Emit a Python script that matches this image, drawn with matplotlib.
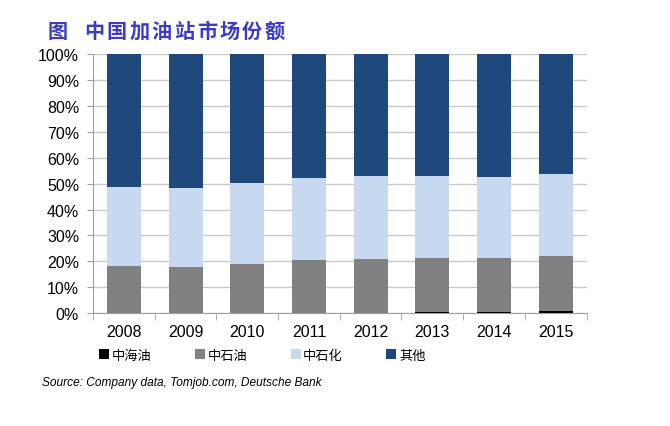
import numpy as np
import matplotlib
matplotlib.use('Agg')
import matplotlib.pyplot as plt
from matplotlib.patches import Patch

plt.rcParams['font.family'] = ['Liberation Sans', 'Noto Sans CJK SC', 'DejaVu Sans']

years = ['2008', '2009', '2010', '2011', '2012', '2013', '2014', '2015']
# shares in %
cnooc = [0.0, 0.0, 0.0, 0.0, 0.0, 0.3, 0.5, 0.8]          # 中海油
petrochina = [18.3, 17.9, 18.9, 20.6, 21.0, 21.1, 20.9, 21.3]  # 中石油
sinopec = [30.5, 30.5, 31.5, 31.5, 32.0, 31.4, 31.2, 31.8]     # 中石化
others = [51.2, 51.6, 49.6, 47.9, 47.0, 47.2, 47.4, 46.1]      # 其他

labels = ['中海油', '中石油', '中石化', '其他']
colors = ['#000000', '#808080', '#c6d9f0', '#1f497d']

series = [cnooc, petrochina, sinopec, others]

fig = plt.figure(figsize=(6.7, 4.27), dpi=100)
fig.set_facecolor('white')
ax = fig.add_axes([0.1388, 0.2646, 0.8755 - 0.1388, 0.8703 - 0.2646])

x = np.arange(len(years))
width = 0.55
bottom = np.zeros(len(years))
for vals, col in zip(series, colors):
    vals = np.array(vals)
    ax.bar(x, vals, width, bottom=bottom, color=col, edgecolor='none', zorder=3)
    bottom += vals

ax.set_xlim(-0.5, len(years) - 0.5)
ax.set_ylim(0, 100)
ax.set_yticks(np.arange(0, 101, 10))
ax.set_yticklabels(['{}%'.format(v) for v in range(0, 101, 10)], fontsize=11.5)
ax.yaxis.grid(True, color='#c8c8c8', linewidth=1, zorder=0)

ax.set_xticks(x)
ax.set_xticklabels(years, fontsize=11.5)
ax.set_xticks(np.arange(-0.5, len(years)), minor=True)
ax.tick_params(axis='x', which='major', length=0, pad=8)
ax.tick_params(axis='x', which='minor', length=5, color='#a0a0a0', direction='out')
ax.tick_params(axis='y', length=4, color='#a0a0a0', direction='out', pad=6)

for s in ['top', 'right']:
    ax.spines[s].set_visible(False)
for s in ['left', 'bottom']:
    ax.spines[s].set_color('#a0a0a0')

# title, drawn char by char to get the wide letter spacing of the original
title_font = dict(fontsize=14.5, fontweight='bold', color='#3b3bc4',
                  family=['Noto Sans CJK SC', 'DejaVu Sans'], va='baseline')
fig.text(48 / 670, 1 - 38 / 427, '图', **title_font)
for i, ch in enumerate('中国加油站市场份额'):
    fig.text((84 + i * 22.6) / 670, 1 - 38 / 427, ch, **title_font)

handles = [Patch(facecolor=c, edgecolor='none') for c in colors]
fig.legend(handles, labels, loc='center left', bbox_to_anchor=(0.13, 0.166), ncol=4,
           frameon=False, prop={'family': ['Noto Sans CJK SC', 'DejaVu Sans'], 'size': 9.5},
           handlelength=0.75, handleheight=0.75, handletextpad=0.2, columnspacing=3.3)

fig.text(0.062, 0.097, 'Source: Company data, Tomjob.com, Deutsche Bank', fontsize=8.6,
         style='italic', color='#000000')

fig.savefig('out.png', dpi=100)
